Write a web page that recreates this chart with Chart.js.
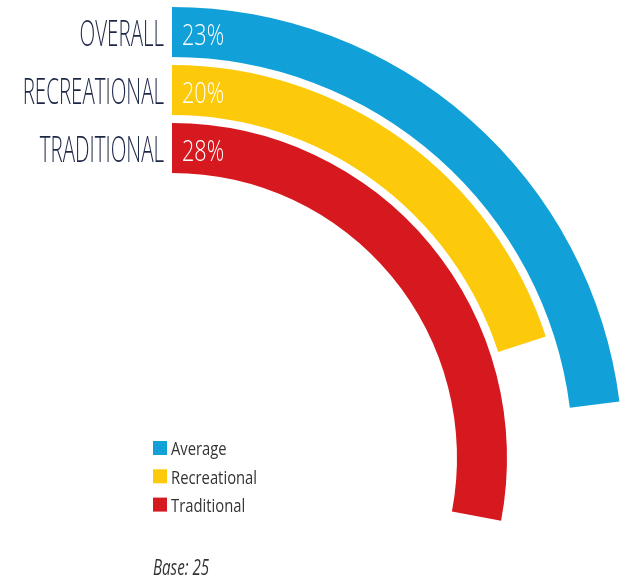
<!DOCTYPE html>
<html>
<head>
<meta charset="utf-8">
<script src="https://cdn.jsdelivr.net/npm/chart.js@4.4.1/dist/chart.umd.min.js"></script>
<style>
  html, body { margin: 0; padding: 0; background: #ffffff; }
  canvas { display: block; }
</style>
</head>
<body>
<canvas id="chart" width="632" height="580"></canvas>
<script>
// Segment names shown beside each ring, and in the key
const ringLabels = ['OVERALL', 'RECREATIONAL', 'TRADITIONAL'];
const legendLabels = ['Average', 'Recreational', 'Traditional'];
// Share per segment, in percent (a full turn = 100%)
const values = [23, 20, 28];
const fullScale = 100;
const baseNote = 'Base: 25';

const colors = ['#12a0d8', '#fdc90b', '#d6181f'];
const RING_WEIGHT = 50;   // ring thickness share
const GAP_WEIGHT = 8;     // white gap between rings
const CLEAR = 'rgba(0,0,0,0)';

// One doughnut ring per segment, outermost first, with blank spacer rings between
const datasets = [];
values.forEach((v, i) => {
  if (i > 0) {
    datasets.push({ data: [fullScale], backgroundColor: [CLEAR], weight: GAP_WEIGHT, borderWidth: 0, clip: false });
  }
  datasets.push({
    label: legendLabels[i],
    data: [v, fullScale - v],
    backgroundColor: [colors[i], CLEAR],
    weight: RING_WEIGHT,
    borderWidth: 0,
    clip: false,
    ringIndex: i
  });
});

function drawText(ctx, text, x, y, font, color, align, squeeze) {
  ctx.save();
  ctx.font = font;
  ctx.fillStyle = color;
  ctx.textAlign = align;
  ctx.textBaseline = 'alphabetic';
  ctx.translate(x, y);
  ctx.scale(squeeze, 1);
  ctx.fillText(text, 0, 0);
  ctx.restore();
}

const ringText = {
  id: 'ringText',
  afterDatasetsDraw(chart) {
    const ctx = chart.ctx;
    chart.data.datasets.forEach((ds, di) => {
      if (ds.ringIndex === undefined) return;
      const arc = chart.getDatasetMeta(di).data[0];
      const mid = arc.y - (arc.outerRadius + arc.innerRadius) / 2;
      drawText(ctx, ringLabels[ds.ringIndex], arc.x - 8, mid + 14, '300 36px "Open Sans"', '#1c2646', 'right', 0.57);
      drawText(ctx, values[ds.ringIndex] + '%', arc.x + 10, mid + 12.5, '300 30px "Open Sans"', '#ffffff', 'left', 0.72);
    });

    // key
    const keyX = 153, keyY = 441, rowH = 28.3, box = 14;
    legendLabels.forEach((name, i) => {
      const y = keyY + i * rowH;
      ctx.fillStyle = colors[i];
      ctx.fillRect(keyX, y, box, box);
      drawText(ctx, name, keyX + box + 4, y + 14.3, '400 18.5px "Open Sans"', '#333333', 'left', 0.8);
    });

    drawText(ctx, baseNote, 153, 575, 'italic 400 21px "Open Sans"', '#333333', 'left', 0.72);
  }
};

new Chart(document.getElementById('chart'), {
  type: 'doughnut',
  data: { labels: ['value', 'rest'], datasets },
  options: {
    responsive: false,
    animation: false,
    events: [],
    radius: 451,
    cutout: ((451 - 3 * RING_WEIGHT - 2 * GAP_WEIGHT) / 451 * 100) + '%',
    rotation: 0,
    circumference: 360,
    layout: { padding: { left: 0, right: 288, top: 336, bottom: 0 } },
    plugins: {
      legend: { display: false },
      tooltip: { enabled: false }
    }
  },
  plugins: [ringText]
});
</script>
</body>
</html>
